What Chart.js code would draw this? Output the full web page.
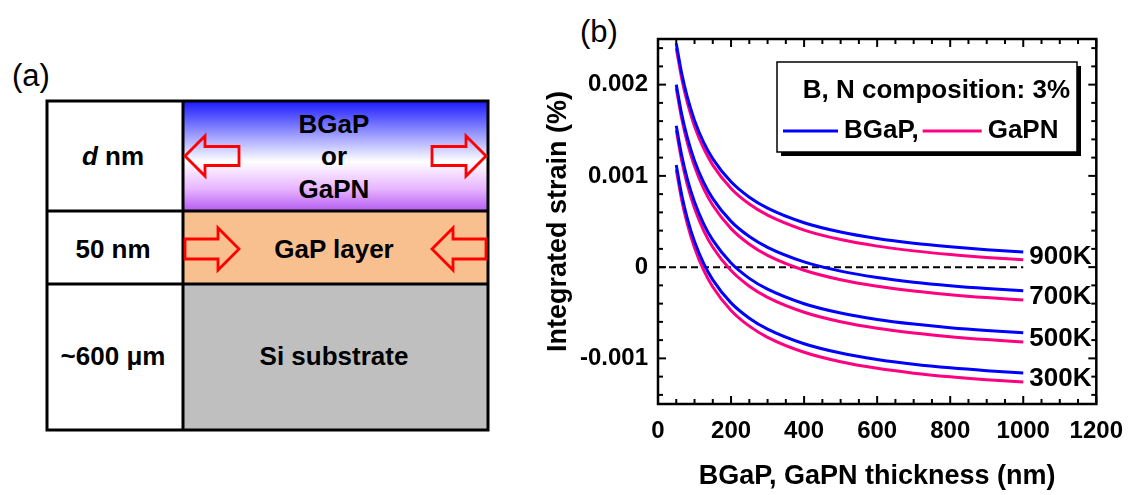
<!DOCTYPE html>
<html>
<head>
<meta charset="utf-8">
<script src="https://cdn.jsdelivr.net/npm/chart.js@4.4.1/dist/chart.umd.min.js"></script>
<style>
html,body{margin:0;padding:0;background:#fff;}
#wrap{position:relative;width:1136px;height:495px;overflow:hidden;background:#fff;}
#schem{position:absolute;left:0;top:0;}
#cwrap{position:absolute;left:540px;top:0;width:596px;height:495px;}
</style>
</head>
<body>
<div id="wrap">
<svg id="schem" width="1136" height="495" xmlns="http://www.w3.org/2000/svg">
  <defs>
    <linearGradient id="g1" x1="0" y1="0" x2="0" y2="1">
      <stop offset="0" stop-color="#1a1aff"/>
      <stop offset="0.3" stop-color="#9898ff"/>
      <stop offset="0.55" stop-color="#ffffff"/>
      <stop offset="0.8" stop-color="#e8b4ff"/>
      <stop offset="1" stop-color="#b55cf0"/>
    </linearGradient>
  </defs>
  <rect x="183" y="101" width="305" height="110" fill="url(#g1)"/>
  <rect x="183" y="211" width="305" height="73" fill="#f9c08f"/>
  <rect x="183" y="284" width="305" height="146" fill="#bfbfbf"/>
  <g stroke="#000" stroke-width="3" fill="none">
    <rect x="47" y="101" width="441" height="329"/>
    <line x1="183" y1="101" x2="183" y2="430"/>
    <line x1="47" y1="211" x2="488" y2="211"/>
    <line x1="47" y1="284" x2="488" y2="284"/>
  </g>
  <g stroke="#ff0000" stroke-width="2.8" fill="none" stroke-linejoin="miter">
    <polygon points="185,156 205,136 205,146.5 239,146.5 239,165.5 205,165.5 205,176"/>
    <polygon points="486,156 466,136 466,146.5 432,146.5 432,165.5 466,165.5 466,176"/>
    <polygon points="239,249 218,228 218,239 185,239 185,259 218,259 218,270"/>
    <polygon points="432,249 453,228 453,239 486,239 486,259 453,259 453,270"/>
  </g>
  <g font-family="Liberation Sans, Arial, sans-serif" font-weight="bold" font-size="26" text-anchor="middle" fill="#000">
    <text x="113" y="165"><tspan font-style="italic">d</tspan> nm</text>
    <text x="113" y="258">50 nm</text>
    <text x="113" y="365">~600 μm</text>
    <text x="334" y="133">BGaP</text>
    <text x="334" y="165">or</text>
    <text x="334" y="198">GaPN</text>
    <text x="334" y="258">GaP layer</text>
    <text x="334" y="365">Si substrate</text>
  </g>
  <g font-family="Liberation Sans, Arial, sans-serif" font-size="31" fill="#000">
    <text x="12" y="86">(a)</text>
    <text x="580" y="42">(b)</text>
  </g>
</svg>
<div id="cwrap"><canvas id="c" width="596" height="495"></canvas></div>
</div>
<script>
// ---- data ----
const THICKNESS = [50,65,80,100,125,150,200,250,300,400,500,600,700,800,900,1000];
const TEMPS = ['900K','700K','500K','300K'];
const SERIES_NAMES = ['BGaP,','GaPN'];
const LEGEND_TITLE = 'B, N composition: 3%';
const BGAP_900K = [0.00245,0.00212,0.001867,0.001608,0.001367,0.001187,0.000935,0.000766,0.000646,0.000486,0.000384,0.000313,0.000261,0.000222,0.00019,0.000165];
const GAPN_900K = [0.0024,0.002066,0.001808,0.001545,0.001301,0.001118,0.000862,0.000691,0.000569,0.000406,0.000302,0.00023,0.000178,0.000138,0.000106,0.00008];
const BGAP_700K = [0.002,0.001674,0.001424,0.001167,0.000929,0.000751,0.000501,0.000335,0.000216,0.000057,-0.000044,-0.000114,-0.000165,-0.000204,-0.000235,-0.00026];
const GAPN_700K = [0.00196,0.001626,0.001368,0.001105,0.000861,0.000678,0.000422,0.000251,0.000129,-0.000034,-0.000138,-0.00021,-0.000262,-0.000302,-0.000334,-0.00036];
const BGAP_500K = [0.00155,0.001223,0.000971,0.000714,0.000475,0.000296,0.000045,-0.000123,-0.000242,-0.000401,-0.000503,-0.000573,-0.000624,-0.000664,-0.000695,-0.00072];
const GAPN_500K = [0.0015,0.001166,0.000908,0.000645,0.000401,0.000218,-0.000038,-0.000209,-0.000331,-0.000494,-0.000598,-0.00067,-0.000722,-0.000762,-0.000794,-0.00082];
const BGAP_300K = [0.00112,0.000791,0.000538,0.00028,0.00004,-0.00014,-0.000392,-0.00056,-0.00068,-0.00084,-0.000942,-0.001012,-0.001064,-0.001104,-0.001135,-0.00116];
const GAPN_300K = [0.00107,0.000734,0.000476,0.000212,-0.000034,-0.000218,-0.000475,-0.000647,-0.000769,-0.000933,-0.001037,-0.001109,-0.001162,-0.001202,-0.001234,-0.00126];
const ZERO_LINE_X = [0,1000];
const ZERO_LINE_Y = [0,0];
const X_TICKS = [0,200,400,600,800,1000,1200];
const X_TICK_LABELS = ['0','200','400','600','800','1000','1200'];
const Y_TICKS = [-0.001,0,0.001,0.002];
const Y_TICK_LABELS = ['-0.001','0','0.001','0.002'];
const X_TITLE = 'BGaP, GaPN thickness (nm)';
const Y_TITLE = 'Integrated strain (%)';

// ---- styling ----
const FONT = 'Liberation Sans, Arial, sans-serif';
const BLUE = '#0000ff';
const PINK = '#ff0080';
const X_MIN = 0, X_MAX = 1200, Y_MIN = -0.0015, Y_MAX = 0.0025;
const X_MINOR = 50, Y_MINOR = 0.0002;

const BGAP = [BGAP_900K, BGAP_700K, BGAP_500K, BGAP_300K];
const GAPN = [GAPN_900K, GAPN_700K, GAPN_500K, GAPN_300K];
const pts = (xs, ys) => xs.map((x, i) => ({x, y: ys[i]}));

const datasets = [];
TEMPS.forEach((t, i) => {
  datasets.push({label: 'BGaP ' + t, data: pts(THICKNESS, BGAP[i]), borderColor: BLUE, borderWidth: 3, pointRadius: 0, cubicInterpolationMode: 'monotone', fill: false});
  datasets.push({label: 'GaPN ' + t, data: pts(THICKNESS, GAPN[i]), borderColor: PINK, borderWidth: 3, pointRadius: 0, cubicInterpolationMode: 'monotone', fill: false});
});
datasets.push({label: 'zero', data: pts(ZERO_LINE_X, ZERO_LINE_Y), borderColor: '#000', borderWidth: 2, borderDash: [7,4], pointRadius: 0, fill: false});

const decor = {
  id: 'decor',
  afterDraw(chart) {
    const {ctx, chartArea: a, scales: {x, y}} = chart;
    ctx.save();
    ctx.strokeStyle = '#000';
    ctx.lineWidth = 2;
    const seg = (x1, y1, x2, y2) => { ctx.beginPath(); ctx.moveTo(x1, y1); ctx.lineTo(x2, y2); ctx.stroke(); };
    // x ticks (bottom and top, inward)
    const nx = Math.round((X_MAX - X_MIN) / X_MINOR);
    for (let i = 0; i <= nx; i++) {
      const v = X_MIN + i * X_MINOR;
      const px = x.getPixelForValue(v);
      const major = X_TICKS.includes(v);
      const L = major ? 8 : 5;
      seg(px, a.bottom, px, a.bottom - L);
      seg(px, a.top, px, a.top + L);
    }
    // y ticks (left and right, inward)
    const i0 = Math.ceil(Y_MIN / Y_MINOR + 1e-9), i1 = Math.floor(Y_MAX / Y_MINOR - 1e-9);
    for (let i = i0; i <= i1; i++) {
      const v = i * Y_MINOR;
      const py = y.getPixelForValue(v);
      const major = (i % 5 === 0);
      const L = major ? 8 : 5;
      seg(a.left, py, a.left + L, py);
      seg(a.right, py, a.right - L, py);
    }
    // frame
    ctx.lineWidth = 2.5;
    ctx.strokeRect(a.left, a.top, a.right - a.left, a.bottom - a.top);

    // temperature labels
    ctx.fillStyle = '#000';
    ctx.font = 'bold 26px ' + FONT;
    ctx.textAlign = 'left';
    ctx.textBaseline = 'middle';
    const last = THICKNESS.length - 1;
    TEMPS.forEach((t, i) => {
      const yv = (BGAP[i][last] + GAPN[i][last]) / 2;
      ctx.fillText(t, x.getPixelForValue(THICKNESS[last]) + 6, y.getPixelForValue(yv) + 1);
    });

    // legend box
    const bl = a.left + 119, bt = a.top + 23, bw = 300, bh = 90;
    ctx.fillStyle = '#000';
    ctx.fillRect(bl + 4, bt + 4, bw, bh);
    ctx.fillStyle = '#fff';
    ctx.fillRect(bl, bt, bw, bh);
    ctx.lineWidth = 1.5;
    ctx.strokeRect(bl, bt, bw, bh);
    ctx.fillStyle = '#000';
    ctx.font = 'bold 26px ' + FONT;
    ctx.textAlign = 'right';
    ctx.fillText(LEGEND_TITLE, bl + 293, bt + 29);
    ctx.textAlign = 'left';
    const ly = bt + 69;
    let cx = bl + 6;
    ctx.lineWidth = 3;
    ctx.strokeStyle = BLUE; seg(cx, ly, cx + 55, ly); cx += 61;
    ctx.fillText(SERIES_NAMES[0], cx, ly); cx += ctx.measureText(SERIES_NAMES[0]).width + 4;
    ctx.strokeStyle = PINK; seg(cx, ly, cx + 59, ly); cx += 65;
    ctx.fillText(SERIES_NAMES[1], cx, ly);
    ctx.restore();
  }
};

new Chart(document.getElementById('c'), {
  type: 'line',
  data: {datasets},
  options: {
    responsive: false,
    animation: false,
    layout: {padding: {left: 0, right: 34, top: 39, bottom: 0}},
    plugins: {legend: {display: false}, tooltip: {enabled: false}},
    scales: {
      x: {
        type: 'linear', min: X_MIN, max: X_MAX,
        afterBuildTicks: s => { s.ticks = X_TICKS.map(v => ({value: v})); },
        afterFit: s => { s.height = 91; },
        grid: {display: false, drawTicks: false},
        border: {display: false},
        ticks: {autoSkip: false, maxRotation: 0, padding: 13, color: '#000', font: {family: FONT, size: 24, weight: 'bold'},
          callback: v => X_TICK_LABELS[X_TICKS.indexOf(v)]},
        title: {display: true, text: X_TITLE, color: '#000', font: {family: FONT, size: 27, weight: 'bold'}, padding: {top: 0, bottom: 2}}
      },
      y: {
        type: 'linear', min: Y_MIN, max: Y_MAX,
        afterBuildTicks: s => { s.ticks = Y_TICKS.map(v => ({value: v})); },
        afterFit: s => { s.width = 118; },
        grid: {display: false, drawTicks: false},
        border: {display: false},
        ticks: {autoSkip: false, padding: 10, color: '#000', font: {family: FONT, size: 24, weight: 'bold'},
          callback: v => { const k = Y_TICKS.findIndex(t => Math.abs(t - v) < 1e-12); return k >= 0 ? Y_TICK_LABELS[k] : ''; }},
        title: {display: true, text: Y_TITLE, color: '#000', font: {family: FONT, size: 27, weight: 'bold'}, padding: {top: 2, bottom: 0}}
      }
    }
  },
  plugins: [decor]
});
</script>
</body>
</html>
